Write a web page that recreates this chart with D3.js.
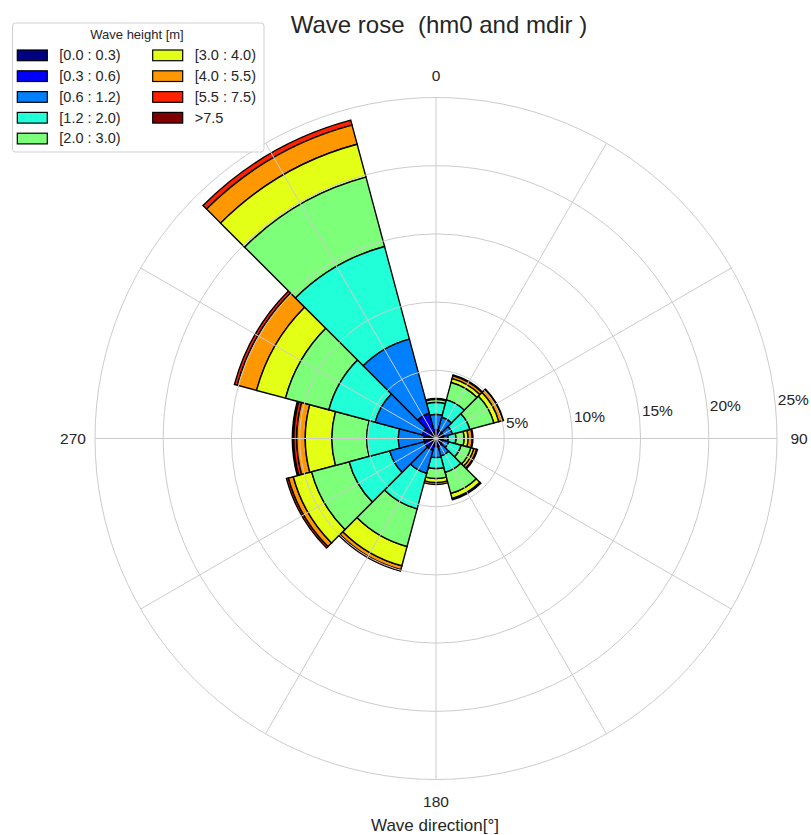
<!DOCTYPE html>
<html lang="en">
<head>
<meta charset="UTF-8">
<title>Wave rose</title>
<style>
    body { margin: 0; background: #fff; }
    svg { font-family: "Liberation Sans", Arial, sans-serif; }
</style>
</head>
<body>
<svg></svg>
<script src="https://d3js.org/d3.v7.min.js"></script>
<script>
    var width = 811;
    var height = 835;
    var cx = 436, cy = 438.5;
    var rMax = 341;

    // direction bins [deg], 30 deg wide
    var directions = [0, 30, 60, 90, 120, 150, 180, 210, 240, 270, 300, 330];

    // wave height classes
    var bins = ["[0.0 : 0.3)", "[0.3 : 0.6)", "[0.6 : 1.2)", "[1.2 : 2.0)", "[2.0 : 3.0)",
                "[3.0 : 4.0)", "[4.0 : 5.5)", "[5.5 : 7.5)", ">7.5"];
    var colors = ["#000080", "#0000ff", "#0080ff", "#20ffd8", "#7dff7a",
                  "#e2ff15", "#ff9700", "#ff2200", "#800000"];

    // frequency [%] of each height class per direction
    var h00_03 = [0.22, 0.22, 0.22, 0.22, 0.22, 0.22, 0.22, 0.29, 0.29, 0.29, 0.37, 0.51];
    var h03_06 = [0.44, 0.37, 0.37, 0.29, 0.29, 0.37, 0.37, 0.59, 0.59, 0.59, 0.66, 1.39];
    var h06_12 = [1.10, 1.02, 0.65, 0.37, 0.44, 0.73, 0.80, 1.76, 2.63, 1.88, 3.59, 5.64];
    var h12_20 = [0.88, 1.32, 1.32, 0.58, 0.95, 1.24, 0.81, 2.70, 3.08, 2.31, 3.51, 7.03];
    var h20_30 = [0.22, 1.32, 1.83, 0.59, 0.74, 1.61, 0.73, 2.86, 2.85, 2.56, 3.29, 5.27];
    var h30_40 = [0.07, 0.29, 0.37, 0.29, 0.22, 0.37, 0.29, 1.46, 1.39, 1.95, 2.20, 2.49];
    var h40_55 = [0.00, 0.22, 0.29, 0.30, 0.21, 0.11, 0.15, 0.30, 0.37, 0.62, 1.46, 1.46];
    var h55_75 = [0.00, 0.07, 0.07, 0.07, 0.08, 0.00, 0.00, 0.11, 0.15, 0.22, 0.22, 0.37];
    var h75_up = [0.00, 0.00, 0.00, 0.00, 0.00, 0.00, 0.00, 0.00, 0.00, 0.11, 0.00, 0.00];

    var series = [h00_03, h03_06, h06_12, h12_20, h20_30, h30_40, h40_55, h55_75, h75_up];

    var radialTicks = [5, 10, 15, 20, 25];
    var angleTicks = [0, 90, 180, 270];
    var gridAngles = [0, 30, 60, 90, 120, 150, 180, 210, 240, 270, 300, 330];

    var rScale = d3.scaleLinear().domain([0, 25]).range([0, rMax]);
    var rad = function (deg) { return deg * Math.PI / 180; };

    // table for d3.stack
    var table = directions.map(function (d, j) {
        var row = {dir: d};
        bins.forEach(function (b, i) { row[b] = series[i][j]; });
        return row;
    });
    var stacked = d3.stack().keys(bins)(table);

    var svg = d3.select("svg")
        .attr("width", width)
        .attr("height", height);

    var g = svg.append("g")
        .attr("transform", "translate(" + cx + "," + cy + ")");

    var arc = d3.arc()
        .innerRadius(function (d) { return rScale(d[0]); })
        .outerRadius(function (d) { return rScale(d[1]); })
        .startAngle(function (d) { return rad(d.data.dir - 15); })
        .endAngle(function (d) { return rad(d.data.dir + 15); });

    // outer classes first so the inner ones sit on top
    var layers = g.append("g");
    stacked.slice().reverse().forEach(function (s) {
        layers.selectAll(null)
            .data(s.filter(function (d) { return d[1] - d[0] > 0; }))
            .enter().append("path")
            .attr("d", arc)
            .attr("fill", colors[s.index])
            .attr("stroke", "#000")
            .attr("stroke-width", 1.4)
            .attr("stroke-linejoin", "miter");
    });

    // grid (drawn above the bars, like matplotlib)
    var grid = g.append("g").attr("fill", "none").attr("stroke", "#cccccc");
    grid.selectAll("circle")
        .data(radialTicks)
        .enter().append("circle")
        .attr("r", function (d) { return rScale(d); })
        .attr("stroke-width", 1);
    grid.selectAll("line")
        .data(gridAngles)
        .enter().append("line")
        .attr("x1", 0).attr("y1", 0)
        .attr("x2", function (d) { return rMax * Math.sin(rad(d)); })
        .attr("y2", function (d) { return -rMax * Math.cos(rad(d)); })
        .attr("stroke-width", 1);

    // radial labels
    var labAng = rad(85.2);
    g.selectAll(".rlab")
        .data(radialTicks)
        .enter().append("text")
        .attr("class", "rlab")
        .attr("x", function (d) { return rScale(d) * Math.sin(labAng) + 2; })
        .attr("y", function (d) { return -rScale(d) * Math.cos(labAng) - 5; })
        .attr("font-size", "15.5px")
        .attr("fill", "#262626")
        .text(function (d) { return d + "%"; });

    // angle labels
    g.selectAll(".alab")
        .data(angleTicks)
        .enter().append("text")
        .attr("class", "alab")
        .attr("x", function (d) { return 363 * Math.sin(rad(d)); })
        .attr("y", function (d) { return -363 * Math.cos(rad(d)); })
        .attr("text-anchor", "middle")
        .attr("dominant-baseline", "central")
        .attr("font-size", "15.5px")
        .attr("fill", "#262626")
        .text(function (d) { return d; });

    // title
    svg.append("text")
        .attr("x", 439)
        .attr("y", 33)
        .attr("text-anchor", "middle")
        .attr("font-size", "24px")
        .attr("fill", "#262626")
        .style("white-space", "pre")
        .text("Wave rose  (hm0 and mdir )");

    // x label
    svg.append("text")
        .attr("x", 435)
        .attr("y", 831)
        .attr("text-anchor", "middle")
        .attr("font-size", "17px")
        .attr("fill", "#262626")
        .text("Wave direction[°]");

    // legend
    var legend = svg.append("g");
    legend.append("rect")
        .attr("x", 12.5).attr("y", 23)
        .attr("width", 251.5).attr("height", 129)
        .attr("rx", 3)
        .attr("fill", "#fff").attr("fill-opacity", 0.8)
        .attr("stroke", "#d0d0d0");
    legend.append("text")
        .attr("x", 137).attr("y", 39)
        .attr("text-anchor", "middle")
        .attr("font-size", "13px")
        .attr("fill", "#262626")
        .text("Wave height [m]");

    var items = legend.selectAll(".item")
        .data(bins)
        .enter().append("g")
        .attr("class", "item")
        .attr("transform", function (d, i) {
            var col = i < 5 ? 0 : 1;
            var row = i < 5 ? i : i - 5;
            return "translate(" + (17.3 + col * 135.4) + "," + (50 + row * 20.8) + ")";
        });
    items.append("rect")
        .attr("width", 30).attr("height", 10.7)
        .attr("fill", function (d, i) { return colors[i]; })
        .attr("stroke", "#000")
        .attr("stroke-width", 1.2);
    items.append("text")
        .attr("x", 42).attr("y", 10.2)
        .attr("font-size", "14.5px")
        .attr("fill", "#262626")
        .text(function (d) { return d; });
</script>
</body>
</html>
